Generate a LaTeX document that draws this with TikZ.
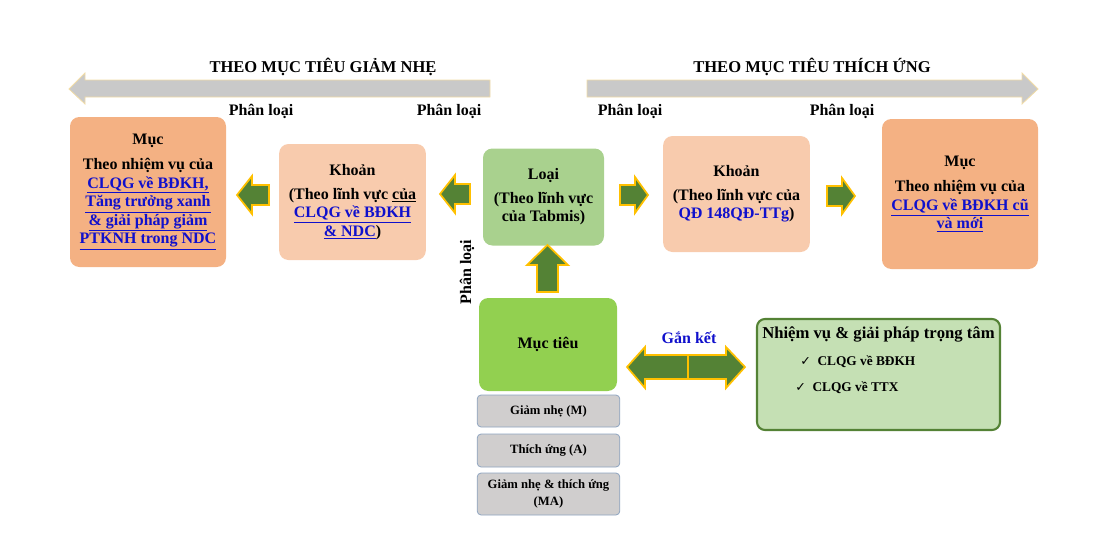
\documentclass[tikz,border=0pt]{standalone}
\usepackage{fontspec}
\setmainfont{Liberation Serif}
\newfontfamily\dejavu{DejaVu Sans}
\definecolor{boxorange}{HTML}{F4B183}
\definecolor{boxpeach}{HTML}{F8CBAD}
\definecolor{boxgreen}{HTML}{A9D18E}
\definecolor{boxlime}{HTML}{92D050}
\definecolor{boxgray}{HTML}{D0CECE}
\definecolor{graybord}{HTML}{8EA4C0}
\definecolor{boxpale}{HTML}{C5E0B4}
\definecolor{darkgreen}{HTML}{548235}
\definecolor{gold}{HTML}{FFC000}
\definecolor{linkblue}{HTML}{1010CC}
\definecolor{bigarrow}{HTML}{C9C9C9}
\definecolor{bigarrowedge}{HTML}{F2DCA6}
\newcommand{\lk}[1]{\textcolor{linkblue}{\underline{#1}}}
\begin{document}
\begin{tikzpicture}[x=0.75pt,y=-0.75pt,
  font=\bfseries\fontsize{12}{13.8}\selectfont,
  bigbox/.style={rounded corners=7pt, align=center, inner sep=2pt},
  graybox/.style={rounded corners=3pt, fill=boxgray, draw=graybord, line width=0.6pt,
    minimum width=107pt, align=center, font=\bfseries\fontsize{9.5}{13}\selectfont},
  garrow/.style={fill=darkgreen, draw=gold, line width=1.3pt, line join=miter},
  grayarrow/.style={fill=bigarrow, draw=bigarrowedge, line width=0.6pt},
  lbl/.style={inner sep=0pt},
  title/.style={inner sep=0pt, font=\bfseries\fontsize{12.4}{14}\selectfont}
]
\useasboundingbox (0,0) rectangle (1097,536);

% big gray arrows
\draw[grayarrow] (490,80) -- (85,80) -- (85,73) -- (69,89) -- (85,104) -- (85,97) -- (490,97) -- cycle;
\draw[grayarrow] (587,80) -- (1022,80) -- (1022,73) -- (1038,89) -- (1022,104) -- (1022,97) -- (587,97) -- cycle;
\node[title] (t1) at (323,67) {THEO MỤC TIÊU GIẢM NHẸ};
\node[title] (t2) at (812,67) {THEO MỤC TIÊU THÍCH ỨNG};
\node[lbl] (p1) at (261,111) {Phân loại};
\node[lbl] (p2) at (449,111) {Phân loại};
\node[lbl] (p3) at (630,111) {Phân loại};
\node[lbl] (p4) at (842,111) {Phân loại};

% boxes
\node[bigbox, fill=boxorange, minimum width=117pt, minimum height=112.5pt] (mucL) at (148,192)
  {Mục\\[5pt] Theo nhiệm vụ của\\ \lk{CLQG về BĐKH,}\\ \lk{Tăng trưởng xanh}\\ \lk{\& giải pháp giảm}\\ \lk{PTKNH trong NDC}};
\node[bigbox, fill=boxpeach, minimum width=110pt, minimum height=87pt] (khoanL) at (352.5,202)
  {Khoản\\[4pt] (Theo lĩnh vực \underline{của}\\ \lk{CLQG về BĐKH}\\ \lk{\& NDC})};
\node[bigbox, fill=boxgreen, minimum width=90.75pt, minimum height=72.75pt] (loai) at (543.5,197)
  {Loại\\[4pt] (Theo lĩnh vực\\ của Tabmis)};
\node[bigbox, fill=boxpeach, minimum width=110pt, minimum height=87pt] (khoanR) at (736.5,194)
  {Khoản\\[4pt] (Theo lĩnh vực của\\ \textcolor{linkblue}{QĐ 148QĐ-TTg})};
\node[bigbox, fill=boxorange, minimum width=117pt, minimum height=112.5pt] (mucR) at (960,194)
  {Mục\\[5pt] Theo nhiệm vụ của\\ \lk{CLQG về BĐKH cũ}\\ \lk{và mới}};
\node[bigbox, fill=boxlime, minimum width=103.5pt, minimum height=69.75pt] (muctieu) at (548,344.5) {Mục tiêu};
\node[graybox, minimum height=24pt] (g1) at (548.5,411) {Giảm nhẹ (M)};
\node[graybox, minimum height=24.75pt] (g2) at (548.5,450.5) {Thích ứng (A)};
\node[graybox, minimum height=31.5pt] (g3) at (548.5,494) {Giảm nhẹ \& thích ứng\\ (MA)};
\node[rounded corners=6pt, fill=boxpale, draw=darkgreen, line width=1.6pt,
  minimum width=182.25pt, minimum height=83.25pt] (nv) at (878.5,374.5) {};
\node[lbl, anchor=base west, font=\bfseries\fontsize{12.5}{14}\selectfont] (nvt) at (762,338) {Nhiệm vụ \& giải pháp trọng tâm};
\node[lbl, anchor=base west, font=\bfseries\fontsize{10}{12}\selectfont] (nv1) at (800,365) {{\dejavu\mdseries\fontsize{9.5}{10}\selectfont ✓}\hspace{5pt}CLQG về BĐKH};
\node[lbl, anchor=base west, font=\bfseries\fontsize{10}{12}\selectfont] (nv2) at (795,391) {{\dejavu\mdseries\fontsize{9.5}{10}\selectfont ✓}\hspace{5pt}CLQG về TTX};

% green block arrows
\draw[garrow] (269,185) -- (252,185) -- (252,176) -- (237,195) -- (252,214) -- (252,205) -- (269,205) -- cycle;
\draw[garrow] (470,184) -- (455,184) -- (455,175) -- (440,194) -- (455,213) -- (455,204) -- (470,204) -- cycle;
\draw[garrow] (620,185) -- (635,185) -- (635,177) -- (648,195) -- (635,213) -- (635,205) -- (620,205) -- cycle;
\draw[garrow] (827,186) -- (842,186) -- (842,178) -- (855,196) -- (842,214) -- (842,206) -- (827,206) -- cycle;
\draw[garrow] (537,292) -- (537,265) -- (527,265) -- (547.5,245) -- (568,265) -- (558,265) -- (558,292) -- cycle;
\draw[garrow] (627,367) -- (645,347) -- (645,355) -- (726,355) -- (726,347) -- (745,367) -- (726,388) -- (726,379) -- (645,379) -- (645,388) -- cycle;
\draw[gold, line width=1.3pt] (688,355) -- (688,379);
\node[lbl, text=linkblue] (gk) at (689,338) {Gắn kết};
\node[lbl, rotate=90] (pv) at (467,272) {Phân loại};
\end{tikzpicture}
\end{document}
